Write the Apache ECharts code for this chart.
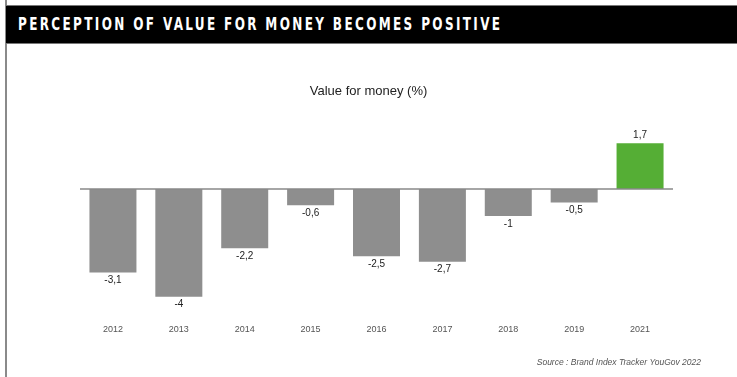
<!DOCTYPE html>
<html>
<head>
<meta charset="utf-8">
<script src="https://cdn.jsdelivr.net/npm/echarts@6/dist/echarts.min.js"></script>
<style>
  html, body { margin: 0; padding: 0; background: #fff; }
  #wrap { position: relative; width: 737px; height: 377px; overflow: hidden; }
  #frame { position: absolute; left: 5px; top: 0; width: 2px; height: 377px; background: #8a8a8a; }
  #header {
    position: absolute; left: 6px; top: 5px; width: 731px; height: 37px;
    background: #000; border-top: 1px solid #777; border-bottom: 1px solid #777;
  }
  #header span {
    position: absolute; left: 12px; top: 8px;
    font-family: "DejaVu Sans Condensed", "Liberation Sans Narrow", sans-serif;
    font-weight: bold; font-size: 17px; letter-spacing: 3px; color: #fff;
    white-space: nowrap; line-height: 20px;
    transform: scaleX(0.786); transform-origin: 0 50%;
  }
  #chart { position: absolute; left: 0; top: 0; width: 737px; height: 377px; }
</style>
</head>
<body>
<div id="wrap">
  <div id="chart"></div>
  <div id="frame"></div>
  <div id="header"><span>PERCEPTION OF VALUE FOR MONEY BECOMES POSITIVE</span></div>
</div>
<script>
// Yearly perception of value for money, in percent
const years = ['2012', '2013', '2014', '2015', '2016', '2017', '2018', '2019', '2021'];
const values = [-3.1, -4, -2.2, -0.6, -2.5, -2.7, -1, -0.5, 1.7];

const GREY = '#8e8e8e';
const GREEN = '#55ae35';
const FONT = 'Liberation Sans, Arial, sans-serif';

const chart = echarts.init(document.getElementById('chart'), null, { renderer: 'canvas' });

const fmt = v => String(v).replace('.', ',');

chart.setOption({
  animation: false,
  title: {
    text: 'Value for money (%)',
    left: 'center',
    top: 80,
    textStyle: { fontFamily: FONT, fontSize: 13, fontWeight: 'normal', color: '#222' }
  },
  graphic: [{
    type: 'text',
    right: 36,
    top: 358,
    style: {
      text: 'Source : Brand Index Tracker YouGov 2022',
      font: 'italic 8.5px "Liberation Sans", Arial, sans-serif',
      fill: '#555'
    }
  }],
  grid: { left: 80, right: 64, top: 135.2, height: 174.9 },
  xAxis: {
    type: 'category',
    data: years,
    axisLine: { show: false, onZero: false },
    axisTick: { show: false },
    axisLabel: { color: '#555', fontSize: 9, fontFamily: FONT, margin: 15 }
  },
  yAxis: {
    type: 'value',
    min: -4.5,
    max: 2,
    show: false
  },
  series: [{
    type: 'bar',
    barWidth: 47,
    data: values.map(v => ({
      value: v,
      itemStyle: { color: v > 0 ? GREEN : GREY },
      label: { position: v > 0 ? 'top' : 'bottom' }
    })),
    label: {
      show: true,
      distance: 3,
      color: '#222',
      fontSize: 10,
      fontFamily: FONT,
      formatter: p => fmt(p.value)
    },
    markLine: {
      silent: true,
      symbol: 'none',
      label: { show: false },
      lineStyle: { color: '#888', width: 1.5, type: 'solid' },
      data: [{ yAxis: 0 }]
    },
    z: 1
  }]
});
</script>
</body>
</html>
